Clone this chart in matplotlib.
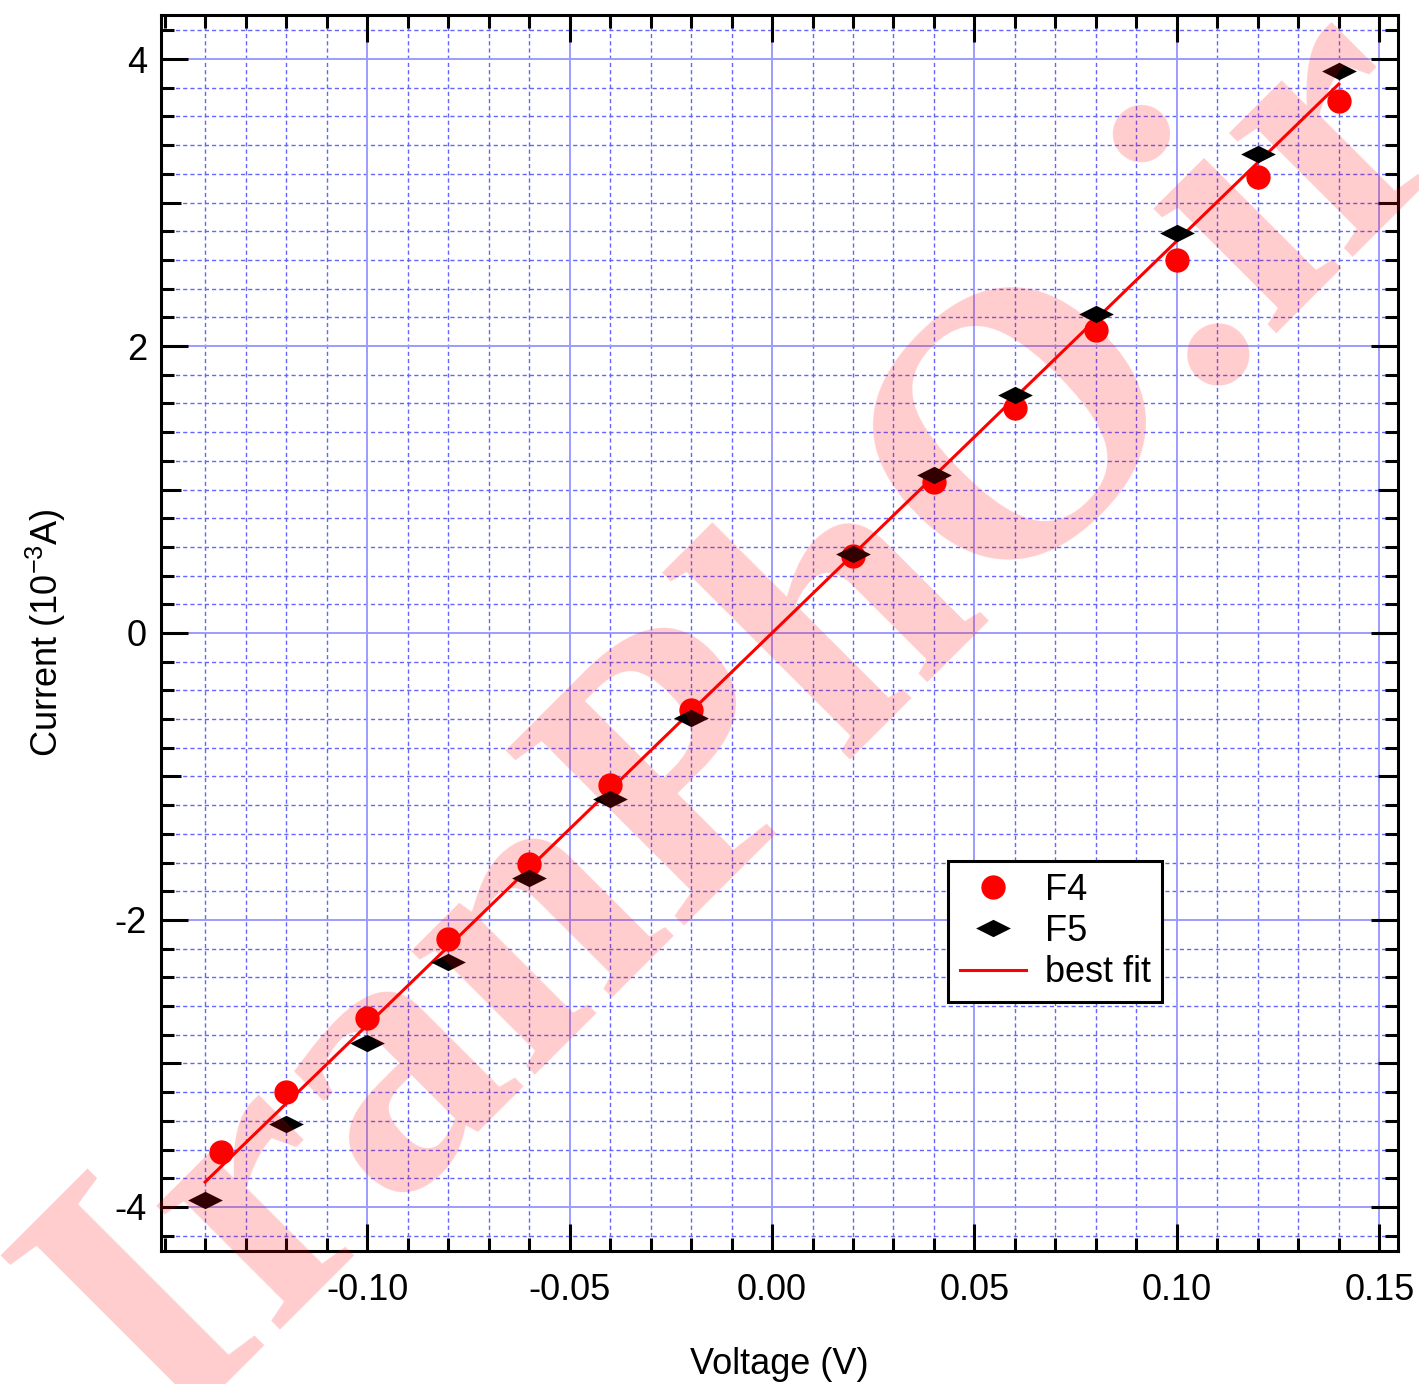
import numpy as np
import matplotlib
matplotlib.use('Agg')
import matplotlib.pyplot as plt
from matplotlib.path import Path
from matplotlib.ticker import FixedLocator, FixedFormatter

plt.rcParams['font.family'] = ['Liberation Sans', 'DejaVu Sans']
plt.rcParams['axes.unicode_minus'] = False
plt.rcParams['mathtext.default'] = 'regular'

# ---- data ----
voltage_f4 = [-0.136, -0.12, -0.10, -0.08, -0.06, -0.04, -0.02,
              0.02, 0.04, 0.06, 0.08, 0.10, 0.12, 0.14]
current_f4 = [-3.62, -3.20, -2.68, -2.13, -1.61, -1.06, -0.54,
              0.54, 1.05, 1.57, 2.11, 2.60, 3.18, 3.71]
voltage_f5 = [-0.14, -0.12, -0.10, -0.08, -0.06, -0.04, -0.02,
              0.02, 0.04, 0.06, 0.08, 0.10, 0.12, 0.14]
current_f5 = [-3.95, -3.42, -2.86, -2.29, -1.71, -1.16, -0.59,
              0.55, 1.10, 1.66, 2.22, 2.79, 3.34, 3.92]
fit_slope = 27.33
fit_intercept = 0.0
fit_range = [-0.14, 0.14]

x_major = [-0.10, -0.05, 0.00, 0.05, 0.10, 0.15]
x_major_labels = ['-0.10', '-0.05', '0.00', '0.05', '0.10', '0.15']
y_major = [-4, -2, 0, 2, 4]
y_major_labels = ['-4', '-2', '0', '2', '4']
y_mid = [-3, -1, 1, 3]

xlim = (-0.1509, 0.1546)
ylim = (-4.307, 4.307)

W, H = 1419, 1384
fig = plt.figure(figsize=(W / 100, H / 100), dpi=100)
ax = fig.add_axes([161 / W, 1 - 1251 / H, (1398 - 161) / W, (1251 - 15) / H])
ax.set_xlim(*xlim)
ax.set_ylim(*ylim)

# ---- grid ----
xg_all = np.round(np.arange(-0.14, 0.1501, 0.01), 3)
xg_major = [v for v in xg_all if abs(round(v / 0.05) * 0.05 - v) < 1e-9]
xg_minor = [v for v in xg_all if v not in xg_major]
yg_all = np.round(np.arange(-4.2, 4.2001, 0.2), 2)
yg_major = [v for v in yg_all if abs(v / 2 - round(v / 2)) < 1e-9]
yg_minor = [v for v in yg_all if v not in yg_major]

minor_kw = dict(color='#6464ff', lw=1.0, dashes=(3, 2.2), zorder=1)
major_kw = dict(color='#9c9cff', lw=1.4, zorder=1)
for v in xg_minor:
    ax.axvline(v, **minor_kw)
for v in yg_minor:
    ax.axhline(v, **minor_kw)
for v in xg_major:
    ax.axvline(v, **major_kw)
for v in yg_major:
    ax.axhline(v, **major_kw)

# ---- data marks ----
diamond = Path([(-1, 0), (0, 0.5), (1, 0), (0, -0.5), (-1, 0)],
               [Path.MOVETO, Path.LINETO, Path.LINETO, Path.LINETO, Path.CLOSEPOLY])

fx = np.array(fit_range)
ax.plot(fx, fit_slope * fx + fit_intercept, color='red', lw=2.2, zorder=3,
        label='best fit')
ax.plot(voltage_f4, current_f4, ls='none', marker='o', ms=16.5, color='red',
        mec='red', zorder=4, label='F4')
ax.plot(voltage_f5, current_f5, ls='none', marker=diamond, ms=25, color='black',
        mec='black', mew=0, zorder=5, label='F5')

# ---- ticks ----
ax.xaxis.set_major_locator(FixedLocator(x_major))
ax.xaxis.set_major_formatter(FixedFormatter(x_major_labels))
ax.xaxis.set_minor_locator(FixedLocator(list(xg_minor) + [-0.15]))
all_y_major = sorted(y_major + y_mid)
ax.yaxis.set_major_locator(FixedLocator(all_y_major))
ax.yaxis.set_major_formatter(FixedFormatter(
    [y_major_labels[y_major.index(v)] if v in y_major else '' for v in all_y_major]))
ax.yaxis.set_minor_locator(FixedLocator(yg_minor))

ax.tick_params(which='both', direction='in', top=True, right=True, width=2.2,
               colors='black', labelsize=26)
ax.tick_params(which='major', length=19.4)
ax.tick_params(which='minor', length=9.5)
ax.tick_params(axis='x', which='major', pad=16)
ax.tick_params(axis='y', which='major', pad=10)
for t, v in zip(ax.yaxis.get_major_ticks(), all_y_major):
    if v in y_mid:
        t.tick1line.set_markersize(14.4)
        t.tick2line.set_markersize(14.4)

for s in ax.spines.values():
    s.set_linewidth(2.2)
    s.set_zorder(6)

ax.set_xlabel('Voltage (V)', fontsize=26, labelpad=28)
ax.set_ylabel('Current (10$^{-3}$A)', fontsize=26, labelpad=34)

# ---- legend ----
h, l = ax.get_legend_handles_labels()
order = [l.index('F4'), l.index('F5'), l.index('best fit')]
leg = ax.legend([h[i] for i in order], [l[i] for i in order],
                loc='upper left', bbox_to_anchor=(0.636, 0.3155),
                borderaxespad=0, fontsize=26, frameon=True, fancybox=False,
                edgecolor='black', framealpha=1, handlelength=1.85,
                handletextpad=0.5, labelspacing=0.17, borderpad=0.33)
leg.get_frame().set_linewidth(2.2)
leg.set_zorder(7)

# ---- watermark ----
fig.text(813 / W, 1 - 784 / H, 'IranPhO.ir', rotation=45, rotation_mode='anchor',
         ha='center', va='baseline', fontsize=275, family='Liberation Serif',
         weight='bold', color='red', alpha=0.2, zorder=10)

fig.savefig('out.png', dpi=100)
